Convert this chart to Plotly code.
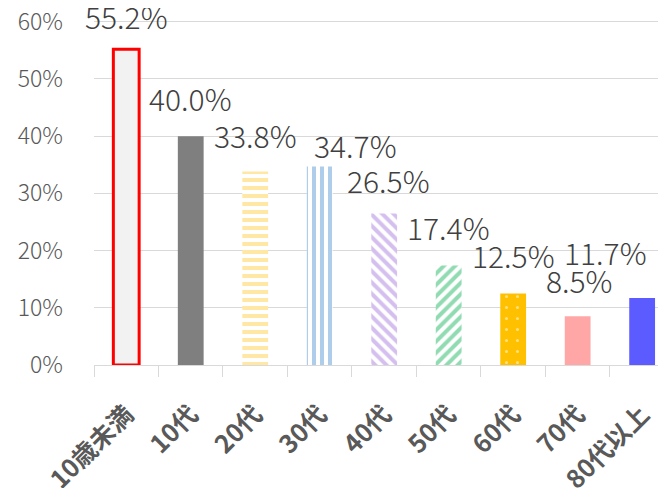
import plotly.graph_objects as go

categories = ["10歳未満", "10代", "20代", "30代", "40代", "50代", "60代", "70代", "80代以上"]
values = [0.552, 0.400, 0.338, 0.347, 0.265, 0.174, 0.125, 0.085, 0.117]
labels = ["55.2%", "40.0%", "33.8%", "34.7%", "26.5%", "17.4%", "12.5%", "8.5%", "11.7%"]
y_ticks = [0, 0.1, 0.2, 0.3, 0.4, 0.5, 0.6]
y_tick_text = ["0%", "10%", "20%", "30%", "40%", "50%", "60%"]

colors = ["#f2f2f2", "#7f7f7f", "#ffd24d", "#5b9bd5", "#a97fe0", "#22b866", "#ffc000", "#ffa7a7", "#5b5bff"]
shapes = ["", "", "-", "|", "\\", "/", ".", "", ""]
line_colors = ["#ff0000"] + ["rgba(0,0,0,0)"] * 8
line_widths = [3] + [0] * 8

fig = go.Figure()
for i, c in enumerate(categories):
    shp = shapes[i]
    if shp == "":
        marker = dict(color=colors[i], line=dict(color=line_colors[i], width=line_widths[i]))
    elif shp == ".":
        marker = dict(color=colors[i], line=dict(width=0),
                      pattern=dict(shape=".", fgcolor="#ffffff", bgcolor=colors[i],
                                   size=11, solidity=0.06, fillmode="overlay"))
    else:
        marker = dict(color="#ffffff", line=dict(width=0),
                      pattern=dict(shape=shp, fgcolor=colors[i], bgcolor="#ffffff",
                                   size=8, solidity=0.5, fillmode="overlay"))
    fig.add_trace(go.Bar(x=[c], y=[values[i]], marker=marker, width=0.4,
                         showlegend=False, hoverinfo="skip"))

# label offsets (pixels) as placed in the original chart
xshifts = [0, 0, 0, 36, 4, 0, 0, 2, -37]
yshifts = [33, 38, 37, 21, 33, 38, 38, 36, 46]
for i, c in enumerate(categories):
    fig.add_annotation(x=c, y=values[i], text=labels[i], showarrow=False,
                       yanchor="middle", yshift=yshifts[i], xshift=xshifts[i],
                       font=dict(family="Noto Sans CJK JP", size=30, color="#404040", weight=300))

fig.update_layout(
    width=658, height=480,
    margin=dict(l=86, r=0, t=8.3, b=123, autoexpand=False),
    paper_bgcolor="#ffffff", plot_bgcolor="#ffffff",
    barmode="overlay",
    xaxis=dict(range=[-0.5, 8.37], type="category", categoryorder="array", categoryarray=categories,
               tickangle=-45, tickfont=dict(family="Noto Sans CJK JP", size=25, color="#595959", weight="bold"),
               showline=True, linecolor="#d9d9d9", linewidth=1,
               ticks="outside", tickson="boundaries", ticklen=11, tickcolor="#d9d9d9",
               ticklabelstandoff=24, showgrid=False, automargin=False, ticklabeloverflow="allow"),
    yaxis=dict(range=[0, 0.61], tickvals=y_ticks, ticktext=y_tick_text,
               tickfont=dict(family="Noto Sans CJK JP", size=23, color="#595959", weight=300),
               showgrid=True, gridcolor="#d9d9d9", gridwidth=1, automargin=False,
               zeroline=False, showline=False, ticklabelstandoff=30, ticklabeloverflow="allow"),
)

fig.write_html("out.html")
